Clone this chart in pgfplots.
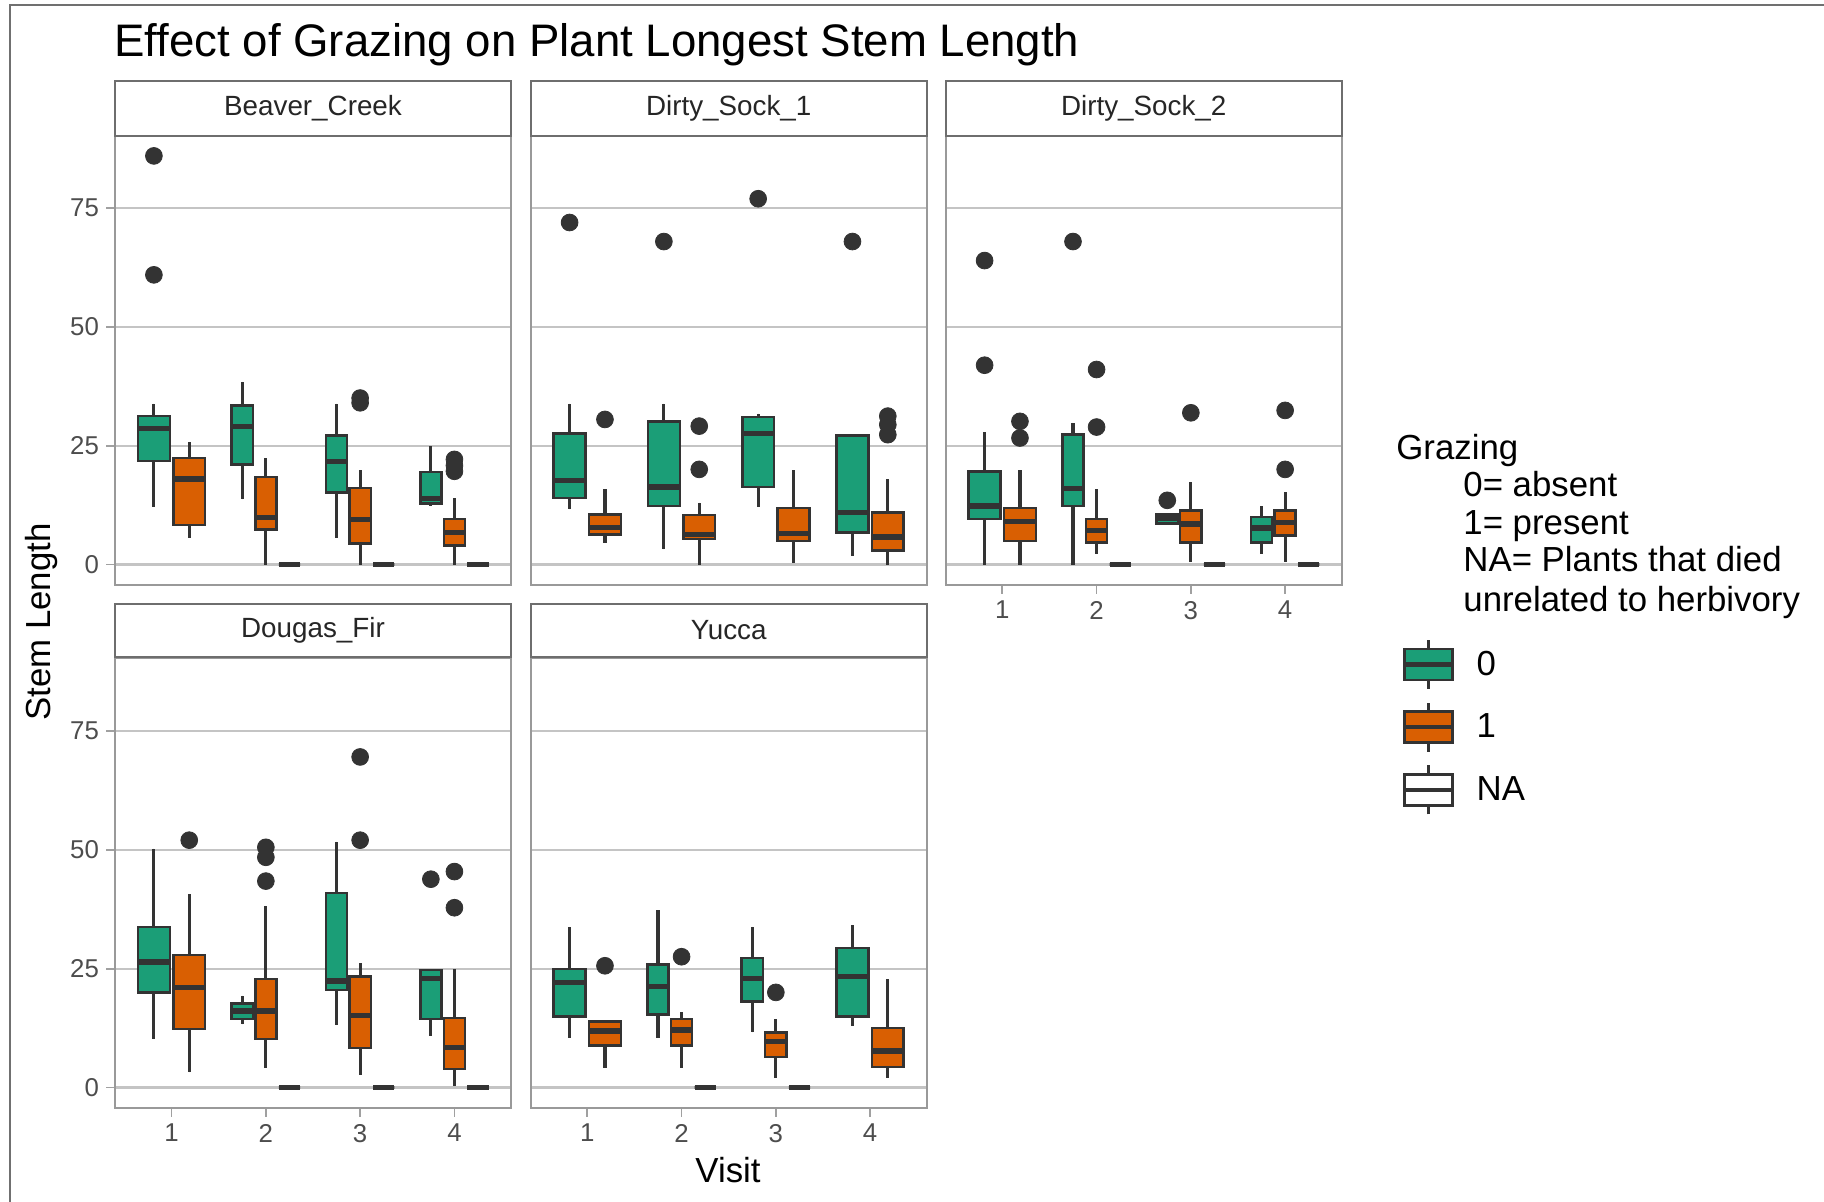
\documentclass[border=0pt]{standalone}
\usepackage{fontspec}
\setmainfont{Liberation Sans}
\usepackage{pgfplots}
\pgfplotsset{compat=1.18}
\usepgfplotslibrary{statistics}
\definecolor{c0}{HTML}{1B9E77}
\definecolor{c1}{HTML}{D95F02}
\definecolor{dk}{HTML}{333333}
\definecolor{gridc}{HTML}{C4C4C4}
\definecolor{pborder}{HTML}{999999}
\definecolor{sborder}{HTML}{6E6E6E}
\definecolor{tickc}{HTML}{A0A0A0}
\definecolor{ticktext}{HTML}{4D4D4D}
\definecolor{framec}{HTML}{707070}
\newcommand{\tickfont}{\fontsize{12.9}{15}\selectfont}
\newcommand{\stripfont}{\fontsize{13.9}{16}\selectfont}
\newcommand{\labfont}{\fontsize{17.4}{20}\selectfont}
\newcommand{\titlefont}{\fontsize{22.8}{27}\selectfont}
% fill, position, width, lower whisker, lower quartile, median, upper quartile, upper whisker, outliers
\newcommand{\bx}[9]{\addplot[fill=#1, draw=dk, line width=1.35pt, mark=*, mark size=4.2pt, mark options={fill=dk, draw=dk, line width=0.4pt},
  boxplot prepared={draw position=#2, box extend=#3, lower whisker=#4, lower quartile=#5, median=#6, upper quartile=#7, upper whisker=#8}] coordinates {#9};}
\newcommand{\na}[1]{\bx{white}{#1}{0.225}{0}{0}{0}{0}{0}{}}
\newcommand{\lgkey}[1]{\draw[dk, line width=1.4pt] (12pt,-12.25pt) -- (12pt,12.25pt);
  \draw[fill=#1, draw=dk, line width=1.3pt] (0pt,-7.75pt) rectangle (24pt,7.75pt);
  \draw[dk, line width=2.2pt] (0pt,0pt) -- (24pt,0pt);}
\pgfplotsset{
  panel/.style={scale only axis, width=198pt, height=225pt, anchor=south west,
    xmin=0.4, xmax=4.6, ymin=-4.3, ymax=90.3,
    axis line style={draw=pborder, line width=0.9pt},
    ymajorgrids, grid style={draw=gridc, line width=1.1pt},
    ytick={0,25,50,75}, xtick={1,2,3,4},
    tick align=outside, major tick length=4.5pt,
    tick style={draw=tickc, line width=0.9pt},
    xtick pos=bottom, ytick pos=left,
    ticklabel style={font=\tickfont, text=ticktext},
    /pgf/number format/assume math mode=true,
    boxplot/draw direction=y,
    boxplot/every box/.style={line width=1.25pt},
    boxplot/every median/.style={line width=2.6pt},
    boxplot/draw/lower whisker/.code={\draw[dk, line width=1.6pt]
      (boxplot cs:\pgfplotsboxplotvalue{lower quartile}) -- (boxplot cs:\pgfplotsboxplotvalue{lower whisker});},
    boxplot/draw/upper whisker/.code={\draw[dk, line width=1.6pt]
      (boxplot cs:\pgfplotsboxplotvalue{upper quartile}) -- (boxplot cs:\pgfplotsboxplotvalue{upper whisker});},
  },
  noxt/.style={xtick=\empty},
  noyt/.style={yticklabels={}, ytick style={draw=none}},
}
\begin{document}
\begin{tikzpicture}
\path[use as bounding box] (0,0) rectangle (912pt,601pt);
\draw[framec, line width=1pt] (5pt,0pt) -- (5pt,598.5pt) -- (912pt,598.5pt);

% Beaver_Creek
\begin{axis}[panel, noxt, at={(57.5pt,308.5pt)}]
\bx{c0}{0.8125}{0.3375}{12.1}{21.8}{28.6}{31.2}{33.8}{(0,85.9) (0,60.9)}
\bx{c1}{1.1875}{0.3375}{5.6}{8.3}{18.0}{22.4}{25.8}{}
\bx{c0}{1.75}{0.225}{13.7}{21.0}{29.1}{33.4}{38.4}{}
\bx{c1}{2.0}{0.225}{0}{7.4}{9.9}{18.4}{22.3}{}
\na{2.25}
\bx{c0}{2.75}{0.225}{5.6}{15.1}{21.6}{27.1}{33.8}{}
\bx{c1}{3.0}{0.225}{0}{4.4}{9.5}{16.1}{19.8}{(0,34.0) (0,35.0)}
\na{3.25}
\bx{c0}{3.75}{0.225}{12.3}{12.8}{13.9}{19.5}{24.9}{}
\bx{c1}{4.0}{0.225}{0}{4.0}{6.8}{9.6}{13.9}{(0,19.6) (0,20.8) (0,22.1)}
\na{4.25}
\end{axis}

% Dirty_Sock_1
\begin{axis}[panel, noxt, noyt, at={(265.35pt,308.5pt)}]
\bx{c0}{0.8125}{0.3375}{11.6}{14.0}{17.6}{27.5}{33.8}{(0,71.9)}
\bx{c1}{1.1875}{0.3375}{4.6}{6.3}{7.8}{10.5}{15.8}{(0,30.5)}
\bx{c0}{1.8125}{0.3375}{3.2}{12.3}{16.3}{30.1}{33.8}{(0,67.9)}
\bx{c1}{2.1875}{0.3375}{0}{5.4}{6.3}{10.4}{13.0}{(0,29.1) (0,20.0)}
\bx{c0}{2.8125}{0.3375}{12.1}{16.3}{27.5}{31.0}{31.7}{(0,76.9)}
\bx{c1}{3.1875}{0.3375}{0.4}{4.9}{6.5}{11.9}{19.8}{}
\bx{c0}{3.8125}{0.3375}{1.8}{6.7}{11.0}{27.1}{27.1}{(0,67.9)}
\bx{c1}{4.1875}{0.3375}{0}{3.0}{5.8}{10.9}{17.9}{(0,27.3) (0,29.4) (0,31.2)}
\end{axis}

% Dirty_Sock_2
\begin{axis}[panel, noyt, at={(472.85pt,308.5pt)},
  legend style={at={(axis description cs:1.152,-0.118)}, anchor=north west, draw=none, fill=none,
    inner sep=0pt, font=\labfont, row sep=5.5pt, nodes={inner sep=0pt},
    /tikz/every odd column/.append style={column sep=11pt}},
  legend cell align=left]
\addlegendimage{legend image code/.code={\lgkey{c0}}}
\addlegendentry{0}
\addlegendimage{legend image code/.code={\lgkey{c1}}}
\addlegendentry{1}
\addlegendimage{legend image code/.code={\lgkey{white}}}
\addlegendentry{NA}
\bx{c0}{0.8125}{0.3375}{0}{9.6}{12.3}{19.6}{27.8}{(0,63.9) (0,41.9)}
\bx{c1}{1.1875}{0.3375}{0}{4.9}{9.1}{11.9}{19.8}{(0,30.1) (0,26.6)}
\bx{c0}{1.75}{0.225}{0}{12.3}{16.0}{27.3}{29.8}{(0,67.9)}
\bx{c1}{2.0}{0.225}{2.3}{4.6}{7.2}{9.6}{15.8}{(0,41.0) (0,28.9)}
\na{2.25}
\bx{c0}{2.75}{0.225}{8.6}{8.6}{9.6}{10.5}{10.5}{(0,13.5)}
\bx{c1}{3.0}{0.225}{0.5}{4.6}{8.5}{11.4}{17.4}{(0,31.9)}
\na{3.25}
\bx{c0}{3.75}{0.225}{2.3}{4.6}{7.7}{10.0}{12.3}{}
\bx{c1}{4.0}{0.225}{0.5}{6.1}{8.9}{11.4}{15.2}{(0,32.4) (0,20.0)}
\na{4.25}
\end{axis}

% Dougas_Fir
\begin{axis}[panel, at={(57.5pt,47pt)}]
\bx{c0}{0.8125}{0.3375}{10.2}{20.0}{26.4}{33.8}{50.2}{}
\bx{c1}{1.1875}{0.3375}{3.2}{12.3}{21.0}{27.9}{40.6}{(0,52.0)}
\bx{c0}{1.75}{0.225}{13.3}{14.4}{16.1}{17.7}{19.3}{}
\bx{c1}{2.0}{0.225}{4.2}{10.2}{16.1}{22.8}{38.2}{(0,50.5) (0,48.4) (0,43.4)}
\na{2.25}
\bx{c0}{2.75}{0.225}{13.1}{20.5}{22.4}{40.9}{51.7}{}
\bx{c1}{3.0}{0.225}{2.7}{8.3}{15.1}{23.3}{26.1}{(0,69.5) (0,52.0)}
\na{3.25}
\bx{c0}{3.75}{0.225}{10.9}{14.4}{23.0}{24.7}{24.9}{(0,43.8)}
\bx{c1}{4.0}{0.225}{0.4}{3.9}{8.4}{14.6}{24.9}{(0,45.4) (0,37.8)}
\na{4.25}
\end{axis}

% Yucca
\begin{axis}[panel, noyt, at={(265.35pt,47pt)}]
\bx{c0}{0.8125}{0.3375}{10.5}{14.9}{22.1}{24.9}{33.8}{}
\bx{c1}{1.1875}{0.3375}{4.2}{8.8}{11.9}{13.9}{13.9}{(0,25.6)}
\bx{c0}{1.75}{0.225}{10.5}{15.4}{21.2}{25.9}{37.3}{}
\bx{c1}{2.0}{0.225}{4.2}{8.8}{12.1}{14.4}{15.8}{(0,27.5)}
\na{2.25}
\bx{c0}{2.75}{0.225}{11.6}{18.1}{23.0}{27.2}{33.8}{}
\bx{c1}{3.0}{0.225}{2.1}{6.4}{9.7}{11.6}{14.4}{(0,20.0)}
\na{3.25}
\bx{c0}{3.8125}{0.3375}{13.0}{14.9}{23.3}{29.3}{34.2}{}
\bx{c1}{4.1875}{0.3375}{2.1}{4.3}{7.7}{12.5}{22.8}{}
\end{axis}

% strips
\begin{scope}[sborder, line width=1pt]
\draw[fill=white] (57.5pt,533pt) rectangle (255.5pt,560.5pt);
\draw[fill=white] (265.35pt,533pt) rectangle (463.35pt,560.5pt);
\draw[fill=white] (472.85pt,533pt) rectangle (670.85pt,560.5pt);
\draw[fill=white] (57.5pt,272.5pt) rectangle (255.5pt,299pt);
\draw[fill=white] (265.35pt,272.5pt) rectangle (463.35pt,299pt);
\end{scope}
\begin{scope}[every node/.style={font=\stripfont, text=black!85, inner sep=0pt}]
\node at (156.5pt,546.75pt) {Beaver\_Creek};
\node at (364.35pt,546.75pt) {Dirty\_Sock\_1};
\node at (571.85pt,546.75pt) {Dirty\_Sock\_2};
\node at (156.5pt,285.75pt) {Dougas\_Fir};
\node at (364.35pt,285.75pt) {Yucca};
\end{scope}

% titles
\node[anchor=base west, font=\titlefont, inner sep=0pt] at (57pt,572.5pt) {Effect of Grazing on Plant Longest Stem Length};
\node[anchor=base, font=\labfont, inner sep=0pt] at (364pt,9.5pt) {Visit};
\node[anchor=base, rotate=90, font=\labfont, inner sep=0pt] at (25pt,290pt) {Stem Length};

% legend title
\begin{scope}[every node/.style={anchor=base west, font=\labfont, inner sep=0pt}]
\node at (698pt,371pt) {Grazing};
\node at (731.5pt,352.5pt) {0= absent};
\node at (731.5pt,333.5pt) {1= present};
\node at (731.5pt,315pt) {NA= Plants that died};
\node at (731.5pt,295pt) {unrelated to herbivory};
\end{scope}
\end{tikzpicture}
\end{document}
